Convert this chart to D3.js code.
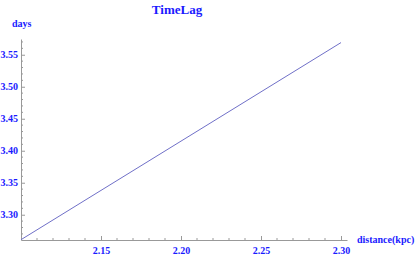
<!DOCTYPE html>
<html>
<head>
<meta charset="utf-8">
<script src="https://cdn.jsdelivr.net/npm/d3@7"></script>
<style>
  body { margin: 0; background: #fff; }
  svg text { font-family: "Liberation Serif", "DejaVu Serif", serif; font-weight: bold; fill: #1a1aff; }
</style>
</head>
<body>
<div id="chart"></div>
<script>
  // data
  distance = [2.10, 2.15, 2.20, 2.25, 2.30]
  timeLag = [3.261, 3.338, 3.415, 3.492, 3.569]
  xTicks = [2.15, 2.20, 2.25, 2.30]
  yTicks = [3.30, 3.35, 3.40, 3.45, 3.50, 3.55]

  canvas = ({width: 416, height: 256})
  lineColor = "#7070c8"
  axisColor = "#999"

  x = d3.scaleLinear()
      .domain([2.10, 2.30375])
      .range([21, 347])

  y = d3.scaleLinear()
      .domain([3.2605, 3.5746])
      .range([240, 39])

  var svg = d3.select("#chart").append("svg")
      .attr("width", canvas.width)
      .attr("height", canvas.height)

  // minor ticks every 0.01
  xMinor = d3.range(2.11, 2.301, 0.01).filter(d => !xTicks.some(t => Math.abs(t - d) < 1e-6))
  yMinor = d3.range(3.27, 3.571, 0.01).filter(d => !yTicks.some(t => Math.abs(t - d) < 1e-6))

  xAxis = g => g
      .attr("transform", `translate(0,${y.range()[0]})`)
      .call(d3.axisBottom(x).tickValues(xTicks).tickFormat(d3.format(".2f")).tickSize(4).tickSizeOuter(0))
      .call(g => g.select(".domain").attr("stroke", axisColor))
      .call(g => g.selectAll(".tick line").attr("stroke", axisColor).attr("y1", -4).attr("y2", 0))
      .call(g => g.selectAll(".tick text").attr("y", 7).attr("font-size", 10))

  yAxis = g => g
      .attr("transform", `translate(${x.range()[0]},0)`)
      .call(d3.axisLeft(y).tickValues(yTicks).tickFormat(d3.format(".2f")).tickSize(4).tickSizeOuter(0))
      .call(g => g.select(".domain").attr("stroke", axisColor))
      .call(g => g.selectAll(".tick line").attr("stroke", axisColor).attr("x1", 4).attr("x2", 0))
      .call(g => g.selectAll(".tick text").attr("x", -3).attr("font-size", 10))

  svg.append("g").call(xAxis)
  svg.append("g").call(yAxis)

  svg.append("g").selectAll("line").data(xMinor).join("line")
      .attr("x1", d => x(d)).attr("x2", d => x(d))
      .attr("y1", y.range()[0]).attr("y2", y.range()[0] - 2)
      .attr("stroke", axisColor)

  svg.append("g").selectAll("line").data(yMinor).join("line")
      .attr("y1", d => y(d)).attr("y2", d => y(d))
      .attr("x1", x.range()[0]).attr("x2", x.range()[0] + 2)
      .attr("stroke", axisColor)

  line = d3.line()
      .x(d => x(d[0]))
      .y(d => y(d[1]))

  svg.append("path")
      .attr("fill", "none")
      .attr("stroke", lineColor)
      .attr("stroke-width", 1)
      .attr("d", line(d3.zip(distance, timeLag)))

  svg.append("text")
      .attr("x", 177).attr("y", 14)
      .attr("text-anchor", "middle")
      .attr("font-size", 13)
      .text("TimeLag")

  svg.append("text")
      .attr("x", 12).attr("y", 27)
      .attr("font-size", 10)
      .text("days")

  svg.append("text")
      .attr("x", 357).attr("y", 243)
      .attr("font-size", 10)
      .text("distance(kpc)")
</script>
</body>
</html>
